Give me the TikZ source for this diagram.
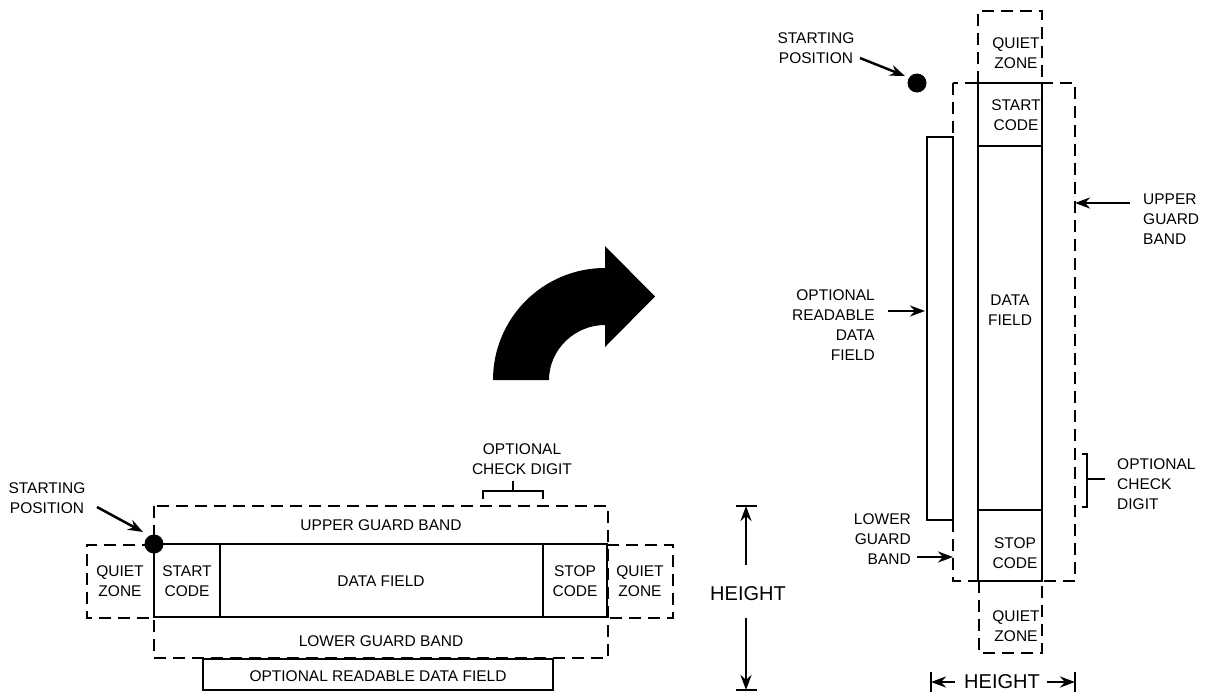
\documentclass[tikz,border=0pt]{standalone}
\usepackage{fontspec}
\setmainfont{Liberation Sans}
\usetikzlibrary{arrows.meta}
\begin{document}
\begin{tikzpicture}[x=1pt,y=-1pt,
  solidline/.style={line width=2.5pt},
  dashline/.style={line width=2.5pt,dash pattern=on 12pt off 7pt},
  lbl/.style={font=\fontsize{15.5}{20}\selectfont,inner sep=0pt,align=center},
  lblr/.style={lbl,align=right},
  lbll/.style={lbl,align=left},
  big/.style={font=\fontsize{20}{24}\selectfont,inner sep=0pt},
  pointer/.style={line width=2.5pt,-{Stealth[length=15pt,width=11pt]}},
  dot/.style={circle,fill=black,inner sep=0pt,minimum size=19pt}
]
\useasboundingbox (0,0) rectangle (1208,694);

% ---------------- horizontal symbol ----------------
% guard bands
\draw[dashline] (154,506) rectangle (608,658);
% quiet zones
\draw[dashline] (154,545) -- (87,545) -- (87,618) -- (154,618);
\draw[dashline] (607,545) -- (673,545) -- (673,618) -- (607,618);
% code body
\draw[solidline,fill=white] (154,544) rectangle (607,617);
\draw[solidline] (220,544) -- (220,617);
\draw[solidline] (543,544) -- (543,617);
% readable field
\draw[solidline,fill=white] (203,659) rectangle (553,690);

\node[dot] (hdot) at (154,544) {};
\node[lbl] (hstart) at (47,498) {STARTING\\POSITION};
\coordinate (hstartA) at (97,507);
\coordinate (hstartB) at (143,532);
\draw[pointer] (hstartA) -- (hstartB);

\node[lbl] (hupper) at (381,525) {UPPER GUARD BAND};
\node[lbl] (hlower) at (381,641) {LOWER GUARD BAND};
\node[lbl] (hdata) at (381,581) {DATA FIELD};
\node[lbl] (hstartc) at (187,581) {START\\CODE};
\node[lbl] (hstopc) at (575,581) {STOP\\CODE};
\node[lbl] (hqz1) at (120,581) {QUIET\\ZONE};
\node[lbl] (hqz2) at (640,581) {QUIET\\ZONE};
\node[lbl] (hread) at (378,676) {OPTIONAL READABLE DATA FIELD};

% check digit bracket
\node[lbl] (hcheck) at (522,459) {OPTIONAL\\CHECK DIGIT};
\coordinate (hbL) at (483,499);
\coordinate (hbR) at (543,499);
\coordinate (hbS) at (513,491);
\coordinate (hbT) at (513,481);
\draw[solidline] (hbL) -- (483,491) -- (543,491) -- (hbR);
\draw[solidline] (hbS) -- (hbT);

% height dimension
\node[big] (hheight) at (748,594) {HEIGHT};
\coordinate (hhTop) at (746,506);
\coordinate (hhBot) at (746,690);
\draw[solidline] (736,506) -- (757,506);
\draw[solidline] (736,690) -- (757,690);
\draw[pointer] (746,565) -- (hhTop);
\draw[pointer] (746,618) -- (hhBot);

% ---------------- rotation arrow ----------------
\fill (493,380) .. controls (493,318.1) and (543.1,268) .. (605,268)
  -- (605,246) -- (655,296.5) -- (605,347) -- (605,325)
  .. controls (574.6,325) and (549,349.6) .. (549,380) -- cycle;

% ---------------- vertical symbol ----------------
\draw[dashline] (953,83) rectangle (1075,581);
\draw[dashline] (978,83) -- (978,11) -- (1042,11) -- (1042,83);
\draw[dashline] (979,581) -- (979,653) -- (1042,653) -- (1042,581);
\draw[solidline,fill=white] (978,83) rectangle (1042,581);
\draw[solidline] (978,146) -- (1042,146);
\draw[solidline] (978,510) -- (1042,510);
\draw[solidline,fill=white] (927,137) rectangle (953,520);

\node[dot] (vdot) at (917,83) {};
\node[lbl] (vstart) at (816,48) {STARTING\\POSITION};
\coordinate (vstartA) at (860,58);
\coordinate (vstartB) at (905,76);
\draw[pointer] (vstartA) -- (vstartB);

\node[lbl] (vqz1) at (1016,53) {QUIET\\ZONE};
\node[lbl] (vstartc) at (1016,115) {START\\CODE};
\node[lbl] (vdata) at (1010,310) {DATA\\FIELD};
\node[lbl] (vstopc) at (1015,553) {STOP\\CODE};
\node[lbl] (vqz2) at (1016,626) {QUIET\\ZONE};

\node[lblr,anchor=east] (vread) at (875,325) {OPTIONAL\\READABLE\\DATA\\FIELD};
\coordinate (vreadA) at (888,311);
\coordinate (vreadB) at (925,311);
\draw[pointer] (vreadA) -- (vreadB);

\node[lblr,anchor=east] (vlower) at (911,539) {LOWER\\GUARD\\BAND};
\coordinate (vlowA) at (917,557);
\coordinate (vlowB) at (953,557);
\draw[pointer] (vlowA) -- (vlowB);

\node[lbll,anchor=west] (vupper) at (1143,219) {UPPER\\GUARD\\BAND};
\coordinate (vupA) at (1130,203);
\coordinate (vupB) at (1075,203);
\draw[pointer] (vupA) -- (vupB);

\node[lbll,anchor=west] (vcheck) at (1117,484) {OPTIONAL\\CHECK\\DIGIT};
\coordinate (vbT) at (1082,454);
\coordinate (vbB) at (1082,507);
\coordinate (vbS) at (1087,479);
\coordinate (vbE) at (1105,479);
\draw[solidline] (vbT) -- (1087,454) -- (1087,507) -- (vbB);
\draw[solidline] (vbS) -- (vbE);

\node[big] (vheight) at (1002,682) {HEIGHT};
\coordinate (vhL) at (931,682);
\coordinate (vhR) at (1075,682);
\draw[solidline] (931,672) -- (931,692);
\draw[solidline] (1075,672) -- (1075,692);
\draw[pointer] (955,682) -- (vhL);
\draw[pointer] (1047,682) -- (vhR);
\end{tikzpicture}
\end{document}
